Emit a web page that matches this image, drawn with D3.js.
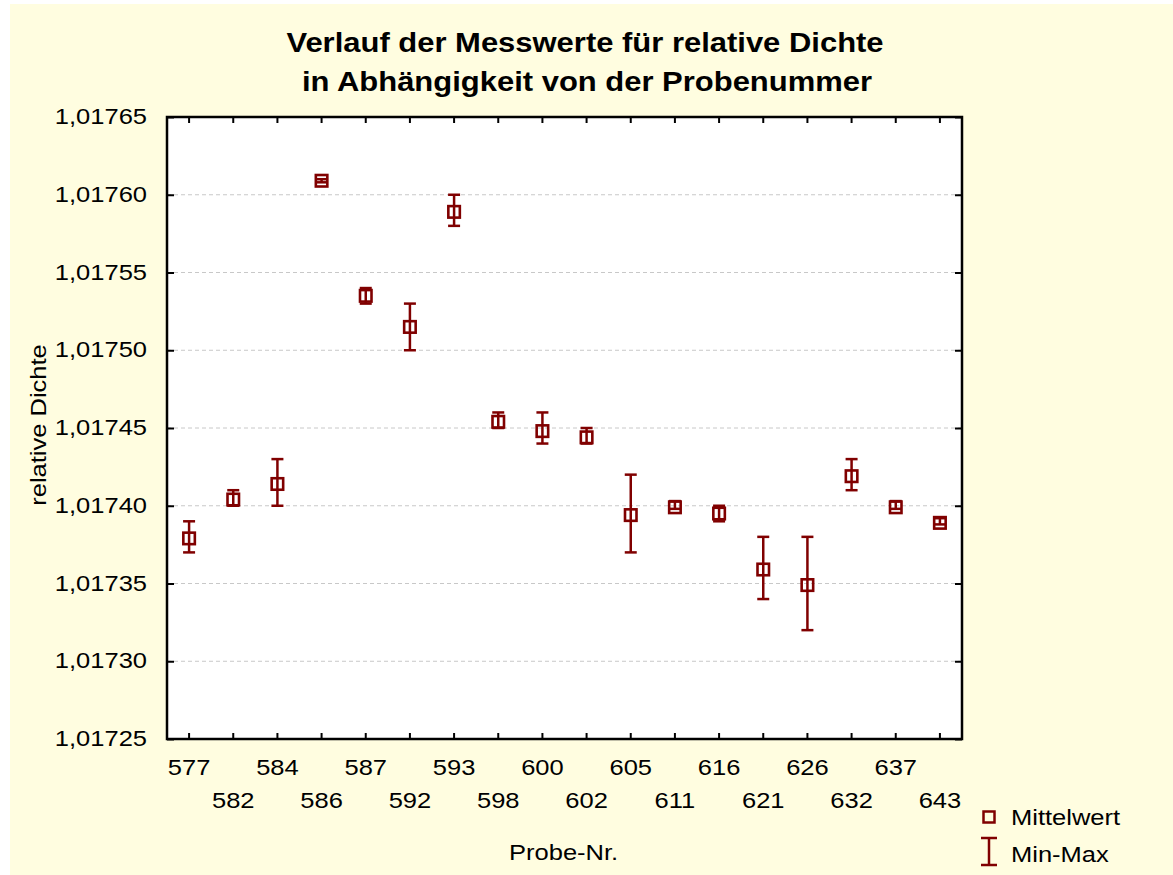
<!DOCTYPE html>
<html>
<head>
<meta charset="utf-8">
<script src="https://cdn.jsdelivr.net/npm/d3@7"></script>
<style>
  html, body { margin: 0; padding: 0; background: #ffffff; }
  svg { display: block; }
  text { font-family: "Liberation Sans", Arial, sans-serif; fill: #000; }
</style>
</head>
<body>
<svg id="chart" width="1173" height="875"></svg>
<script>
// ---- Data ----
const probes = ["577","582","584","586","587","592","593","598","600","602","605","611","616","621","626","632","637","643"];
const means  = [1.017379,1.017404,1.017414,1.017609,1.017535,1.017515,1.017589,1.017454,1.017448,1.017444,1.017394,1.017399,1.017395,1.017359,1.017349,1.017419,1.017399,1.017389];
const mins   = [1.01737, 1.01740, 1.01740, 1.017608,1.01753, 1.01750, 1.01758, 1.01745, 1.01744, 1.01744, 1.01737, 1.017398,1.01739, 1.01734, 1.01732, 1.01741, 1.017398,1.017388];
const maxs   = [1.01739, 1.01741, 1.01743, 1.01761, 1.01754, 1.01753, 1.01760, 1.01746, 1.01746, 1.01745, 1.01742, 1.017403,1.01740, 1.01738, 1.01738, 1.01743, 1.017403,1.017392];
const yTicks = [1.01725,1.01730,1.01735,1.01740,1.01745,1.01750,1.01755,1.01760,1.01765];
const titleLines = ["Verlauf der Messwerte für relative Dichte", "in Abhängigkeit von der Probenummer"];
const xTitle = "Probe-Nr.";
const yTitle = "relative Dichte";
const legendLabels = ["Mittelwert", "Min-Max"];

// ---- Layout ----
const W = 1173, H = 875;
const L = 167, T = 117, R = 962, B = 739;
const SX = 1.16;              // horizontal stretch of text
const red = "#800000";

const svg = d3.select("#chart");
svg.append("rect").attr("x", 10).attr("y", 4).attr("width", W - 10).attr("height", H - 4).attr("fill", "#FFFDE0");

const x = d3.scaleBand().domain(probes).range([L, R]).paddingInner(0).paddingOuter(0);
const y = d3.scaleLinear().domain([yTicks[0], yTicks[yTicks.length - 1]]).range([B, T]);
const de = d3.formatLocale({decimal: ",", thousands: ".", grouping: [3], currency: ["", "€"]});
const fmt = de.format(".5f");

function stxt(parent, px, py, str, size, anchor, weight) {
  return parent.append("text")
    .attr("transform", `translate(${px},${py}) scale(${SX},1)`)
    .attr("text-anchor", anchor || "start")
    .style("font-size", size + "px")
    .style("font-weight", weight || "normal")
    .text(str);
}

// plot background
svg.append("rect").attr("x", L).attr("y", T).attr("width", R - L).attr("height", B - T).attr("fill", "#fff");

// gridlines
svg.append("g").selectAll("line").data(yTicks.slice(1, -1)).join("line")
  .attr("x1", L).attr("x2", R).attr("y1", d => y(d)).attr("y2", d => y(d))
  .attr("stroke", "#c8c8c8").attr("stroke-width", 1).attr("stroke-dasharray", "4,3");

// Y axis (left) with labels
const yAxis = svg.append("g").attr("transform", `translate(${L},0)`)
  .call(d3.axisLeft(y).tickValues(yTicks).tickFormat(fmt).tickSize(-7).tickSizeOuter(0));
yAxis.select(".domain").remove();
yAxis.selectAll(".tick line").attr("stroke", "#000").attr("stroke-width", 2);
yAxis.selectAll(".tick text")
  .attr("x", -20 / SX).attr("dy", "0.3em")
  .attr("transform", `scale(${SX},1)`)
  .style("font-size", "22px").style("font-family", "'Liberation Sans', Arial, sans-serif");

// Y axis (right) ticks
const yAxisR = svg.append("g").attr("transform", `translate(${R},0)`)
  .call(d3.axisRight(y).tickValues(yTicks).tickFormat("").tickSize(-7).tickSizeOuter(0));
yAxisR.select(".domain").remove();
yAxisR.selectAll(".tick line").attr("stroke", "#000").attr("stroke-width", 2);

// X axis top ticks
const xTop = svg.append("g").attr("transform", `translate(0,${T})`)
  .call(d3.axisTop(x).tickFormat("").tickSize(-6).tickSizeOuter(0));
xTop.select(".domain").remove();
xTop.selectAll(".tick line").attr("stroke", "#000").attr("stroke-width", 2);

// X axis bottom with alternating labels
const xBot = svg.append("g").attr("transform", `translate(0,${B})`)
  .call(d3.axisBottom(x).tickSize(-6).tickSizeOuter(0));
xBot.select(".domain").remove();
xBot.selectAll(".tick line").attr("stroke", "#000").attr("stroke-width", 2);
xBot.selectAll(".tick text")
  .attr("y", (d, i) => (i % 2 === 0 ? 36 : 69)).attr("dy", 0)
  .attr("transform", `scale(${SX},1)`)
  .style("font-size", "22px").style("font-family", "'Liberation Sans', Arial, sans-serif");

// frame
svg.append("rect").attr("x", L).attr("y", T).attr("width", R - L).attr("height", B - T)
  .attr("fill", "none").attr("stroke", "#000").attr("stroke-width", 2.5);

// error bars
const cap = 12;
const eg = svg.append("g").attr("stroke", red).attr("stroke-width", 2.5).attr("fill", "none");
probes.forEach((p, i) => {
  const cx = x(p) + x.bandwidth() / 2;
  eg.append("line").attr("x1", cx).attr("x2", cx).attr("y1", y(maxs[i])).attr("y2", y(mins[i]));
  eg.append("line").attr("x1", cx - cap / 2).attr("x2", cx + cap / 2).attr("y1", y(maxs[i])).attr("y2", y(maxs[i]));
  eg.append("line").attr("x1", cx - cap / 2).attr("x2", cx + cap / 2).attr("y1", y(mins[i])).attr("y2", y(mins[i]));
});

// mean markers
const ms = 11.5;
svg.append("g").selectAll("rect").data(probes).join("rect")
  .attr("x", d => x(d) + x.bandwidth() / 2 - ms / 2)
  .attr("y", (d, i) => y(means[i]) - ms / 2)
  .attr("width", ms).attr("height", ms)
  .attr("fill", "none").attr("stroke", red).attr("stroke-width", 2.6);

// titles
stxt(svg, 585, 52, titleLines[0], 26.7, "middle", "bold");
stxt(svg, 587, 91, titleLines[1], 26.7, "middle", "bold");

// axis titles
stxt(svg, 509, 860, xTitle, 22, "start");
svg.append("text")
  .attr("transform", `translate(46,425) rotate(-90) scale(${SX},1)`)
  .attr("text-anchor", "middle").style("font-size", "22px").text(yTitle);

// legend
const lg = svg.append("g");
lg.append("rect").attr("x", 983.5).attr("y", 811.5).attr("width", 11).attr("height", 11)
  .attr("fill", "none").attr("stroke", red).attr("stroke-width", 2.5);
stxt(lg, 1011, 825, legendLabels[0], 22, "start");
lg.append("line").attr("x1", 989).attr("x2", 989).attr("y1", 838).attr("y2", 865).attr("stroke", red).attr("stroke-width", 2.5);
lg.append("line").attr("x1", 981).attr("x2", 997).attr("y1", 838).attr("y2", 838).attr("stroke", red).attr("stroke-width", 2.5);
lg.append("line").attr("x1", 981).attr("x2", 997).attr("y1", 865).attr("y2", 865).attr("stroke", red).attr("stroke-width", 2.5);
stxt(lg, 1011, 862, legendLabels[1], 22, "start");
</script>
</body>
</html>
